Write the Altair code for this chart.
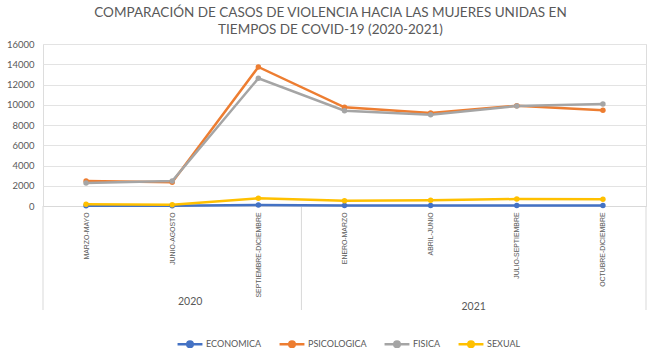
import altair as alt
import pandas as pd

categories = ["MARZO-MAYO", "JUNIO-AGOSTO", "SEPTIEMBRE-DICIEMBRE", "ENERO-MARZO",
              "ABRIL-JUNIO", "JULIO-SEPTIEMBRE", "OCTUBRE-DICIEMBRE"]
years = ["2020", "2021"]
year_counts = [3, 4]
series = ["ECONOMICA", "PSICOLOGICA", "FISICA", "SEXUAL"]
economica = [30, 25, 90, 40, 40, 40, 40]
psicologica = [2470, 2340, 13730, 9750, 9180, 9900, 9450]
fisica = [2270, 2470, 12610, 9410, 9020, 9880, 10070]
sexual = [170, 130, 760, 520, 560, 690, 660]
colors = ["#4472C4", "#ED7D31", "#A5A5A5", "#FFC000"]

values = [economica, psicologica, fisica, sexual]
rows = []
for s_i, (s, vals) in enumerate(zip(series, values)):
    for i, v in enumerate(vals):
        rows.append({"serie": s, "order": s_i, "idx": i, "cat": categories[i], "valor": v})
df = pd.DataFrame(rows)

# year group boundaries and mids
bounds = [-0.5]
mids = []
start = 0
for c in year_counts:
    mids.append(start + (c - 1) / 2)
    start += c
    bounds.append(start - 0.5)
sep_df = pd.DataFrame({"b": bounds})
year_df = pd.DataFrame({"year": years, "mid": mids})

n = len(categories)
label_expr = "[" + ",".join("'" + c + "'" for c in categories) + "][datum.value]"
xscale = alt.Scale(domain=[-0.5, n - 0.5], nice=False, zero=False)
yscale = alt.Scale(domain=[0, 16000], nice=False)
GRAY = "#595959"

xaxis = alt.Axis(values=list(range(n)), labelExpr=label_expr, labelAngle=-90,
                 labelFontSize=6.9, labelColor=GRAY, labelPadding=6, ticks=False,
                 grid=False, domainColor="#d9d9d9", title=None,
                 labelFont="Liberation Sans")
yaxis = alt.Axis(values=list(range(0, 16001, 2000)), format="d", labelOverlap=False,
                 title=None, ticks=False,
                 domain=False, labelFontSize=9.5, labelColor=GRAY, labelPadding=9,
                 gridColor="#e3e3e3", gridWidth=1, labelFont="Lato")
cscale = alt.Scale(domain=series, range=colors)

legend_path = "M-1,0L-0.22,0M0.22,0L1,0M-0.22,0A0.22,0.22 0 1,0 0.22,0A0.22,0.22 0 1,0 -0.22,0Z"
legend = alt.Legend(title=None, orient="none", direction="horizontal",
                    legendX=133, legendY=286, symbolType=legend_path,
                    symbolSize=620, symbolStrokeWidth=2.5,
                    labelFontSize=9, labelColor=GRAY, labelFont="Lato",
                    columnPadding=12, symbolOffset=0, labelOffset=2)

base = alt.Chart(df)
lines = base.mark_line(strokeWidth=2.5).encode(
    x=alt.X("idx:Q", scale=xscale, axis=xaxis),
    y=alt.Y("valor:Q", scale=yscale, axis=yaxis),
    color=alt.Color("serie:N", scale=cscale, legend=legend),
    order="order:Q",
)
points = base.mark_point(filled=True, size=30, opacity=1).encode(
    x=alt.X("idx:Q", scale=xscale, axis=xaxis),
    y=alt.Y("valor:Q", scale=yscale, axis=yaxis),
    color=alt.Color("serie:N", scale=cscale, legend=legend),
)

seps = alt.Chart(sep_df).mark_rule(color="#d9d9d9", strokeWidth=1).encode(
    x=alt.X("b:Q", scale=xscale, axis=xaxis), y=alt.value(162), y2=alt.value(266))

yr1 = alt.Chart(year_df).transform_filter(alt.datum.year == years[0]).mark_text(
    fontSize=10.5, color=GRAY, dx=18, font="Lato").encode(
    x=alt.X("mid:Q", scale=xscale, axis=xaxis), y=alt.value(258), text="year:N")
yr2 = alt.Chart(year_df).transform_filter(alt.datum.year == years[1]).mark_text(
    fontSize=10.5, color=GRAY, font="Lato").encode(
    x=alt.X("mid:Q", scale=xscale, axis=xaxis), y=alt.value(263), text="year:N")

chart = alt.layer(seps, lines, points, yr1, yr2).properties(
    width=603, height=162,
    title=alt.Title(["COMPARACIÓN DE CASOS DE VIOLENCIA HACIA LAS MUJERES UNIDAS EN",
                     "TIEMPOS DE COVID-19 (2020-2021)"],
                    fontSize=13.5, font="Lato", fontWeight="normal", color=GRAY,
                    anchor="middle", dx=-14, offset=3, lineHeight=17),
    autosize=alt.AutoSizeParams(type="none"),
    padding={"left": 43, "top": 44, "right": 12, "bottom": 145},
).configure_view(stroke=None).configure(background="white")

chart.save("out.html", embed_options={"renderer": "svg", "actions": False})
